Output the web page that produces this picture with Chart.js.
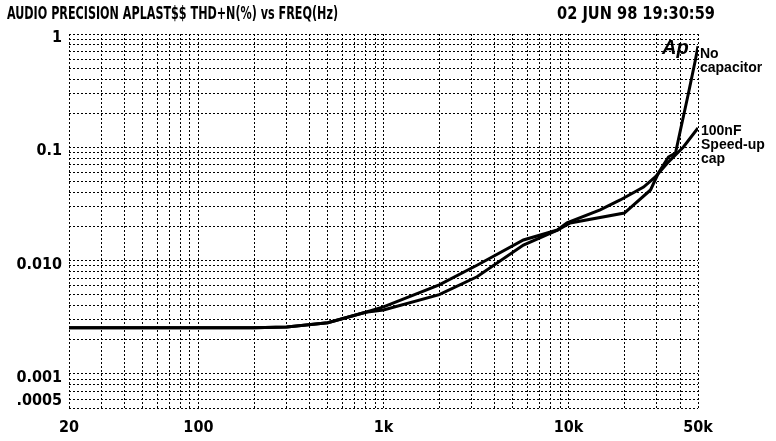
<!DOCTYPE html>
<html>
<head>
<meta charset="utf-8">
<script src="https://cdn.jsdelivr.net/npm/chart.js@4/dist/chart.umd.min.js"></script>
<style>
  html, body { margin: 0; padding: 0; background: #fff; }
  #wrap { position: relative; width: 776px; height: 441px; overflow: hidden; }
  canvas { position: absolute; left: 0; top: 0; }
  .hdr { position: absolute; white-space: nowrap; font-family: "DejaVu Sans Condensed", "DejaVu Sans", sans-serif; font-weight: bold; font-size: 17px; color: #000; transform-origin: 0 0; line-height: 1; }
  .note { position: absolute; white-space: nowrap; font-family: "Liberation Sans", Arial, sans-serif; font-weight: bold; font-size: 14px; color: #000; line-height: 14px; }
  .ap { position: absolute; font-family: "Liberation Sans", Arial, sans-serif; font-style: italic; font-weight: bold; font-size: 20px; color: #000; line-height: 1; }
</style>
</head>
<body>
<div id="wrap">
  <canvas id="c" width="776" height="441"></canvas>
  <div class="hdr" id="title" style="left:7px; top:5px;">AUDIO PRECISION APLAST$$ THD+N(%) vs FREQ(Hz)</div>
  <div class="hdr" id="date" style="left:557px; top:5px;">02 JUN 98 19:30:59</div>
  <div class="ap" style="left:662px; top:37px;">Ap</div>
  <div class="note" style="left:700px; top:46px;">No<br>capacitor</div>
  <div class="note" style="left:701px; top:123px;">100nF<br>Speed-up<br>cap</div>
</div>
<script>
// ---- data ----
const freqNoCap = [20, 50, 100, 200, 300, 500, 800, 1000, 2000, 3200, 5700, 8700, 10200, 20000, 27700, 30500, 34600, 37800, 40200, 44400, 48400, 50000];
const thdNoCap  = [0.00256, 0.00256, 0.00256, 0.00256, 0.0026, 0.00283, 0.0035, 0.00366, 0.0050, 0.0072, 0.0137, 0.0186, 0.0215, 0.0263, 0.042, 0.059, 0.082, 0.089, 0.142, 0.30, 0.59, 0.78];

const freqSpeedUp = [20, 50, 100, 200, 300, 500, 800, 1000, 2000, 3200, 5700, 8700, 9800, 14800, 19000, 25400, 29400, 34200, 41700, 50000];
const thdSpeedUp  = [0.00256, 0.00256, 0.00256, 0.00256, 0.0026, 0.00283, 0.0035, 0.0039, 0.0061, 0.0091, 0.0152, 0.0186, 0.0215, 0.028, 0.0343, 0.0446, 0.0547, 0.0727, 0.1007, 0.148];

const xTickValues = [20, 100, 1000, 10000, 50000];
const xTickLabels = ['20', '100', '1k', '10k', '50k'];
const yTickValues = [1, 0.1, 0.01, 0.001, 0.0005];
const yTickLabels = ['1', '0.1', '0.010', '0.001', '.0005'];

const X_MIN = 20, X_MAX = 50000, Y_MIN = 0.0005, Y_MAX = 1;

// fit header widths
function fitWidth(id, w) {
  const el = document.getElementById(id);
  const mw = el.getBoundingClientRect().width;
  el.style.transform = 'scaleX(' + (w / mw) + ')';
}
fitWidth('title', 331);
fitWidth('date', 158);

function logGridValues(min, max) {
  const out = [];
  for (let d = -5; d <= 6; d++) {
    for (let m = 1; m <= 9; m++) {
      const v = parseFloat((m * Math.pow(10, d)).toPrecision(6));
      if (v >= min * 0.9999 && v <= max * 1.0001) out.push(v);
    }
  }
  return out;
}
function near(a, b) { return Math.abs(a - b) <= Math.abs(b) * 1e-6; }
function lookup(vals, labels, v) {
  for (let i = 0; i < vals.length; i++) if (near(v, vals[i])) return labels[i];
  return '';
}

const toPts = (xs, ys) => xs.map((x, i) => ({ x: x, y: ys[i] }));

const gridStyle = {
  color: '#000',
  lineWidth: 1,
  tickLength: 0,
  drawTicks: false
};
const tickFont = { family: '"DejaVu Sans Condensed", "DejaVu Sans", sans-serif', weight: 'bold', size: 16 };

new Chart(document.getElementById('c'), {
  type: 'line',
  data: {
    datasets: [
      { label: 'No capacitor', data: toPts(freqNoCap, thdNoCap), borderColor: '#000', borderWidth: 3, pointRadius: 0, tension: 0, fill: false },
      { label: '100nF Speed-up cap', data: toPts(freqSpeedUp, thdSpeedUp), borderColor: '#000', borderWidth: 3, pointRadius: 0, tension: 0, fill: false }
    ]
  },
  options: {
    responsive: false,
    devicePixelRatio: 1,
    animation: false,
    layout: { padding: { top: 34, right: 78, left: 0, bottom: 0 } },
    plugins: { legend: { display: false }, tooltip: { enabled: false }, title: { display: false } },
    scales: {
      x: {
        type: 'logarithmic',
        min: X_MIN, max: X_MAX,
        border: { display: false, dash: [2, 2] },
        grid: Object.assign({}, gridStyle),
        afterBuildTicks: (s) => { s.ticks = logGridValues(X_MIN, X_MAX).map(v => ({ value: v })); },
        afterFit: (s) => { s.height = 33; },
        ticks: {
          autoSkip: false, maxRotation: 0, minRotation: 0, padding: 10, color: '#000',
          font: tickFont,
          callback: (v) => lookup(xTickValues, xTickLabels, v)
        }
      },
      y: {
        type: 'logarithmic',
        min: Y_MIN, max: Y_MAX,
        border: { display: false, dash: [2, 2] },
        grid: Object.assign({}, gridStyle),
        afterBuildTicks: (s) => { s.ticks = logGridValues(Y_MIN, Y_MAX).map(v => ({ value: v })); },
        afterFit: (s) => { s.width = 69; },
        ticks: {
          autoSkip: false, padding: 7, color: '#000', labelOffset: 4,
          font: (ctx) => {
            const f = Object.assign({}, tickFont);
            if (ctx.tick && near(ctx.tick.value, 0.0005)) f.lineHeight = '22px';
            return f;
          },
          callback: (v) => {
            const l = lookup(yTickValues, yTickLabels, v);
            return near(v, 0.0005) ? [l, ''] : l;
          }
        }
      }
    }
  }
});
</script>
</body>
</html>
